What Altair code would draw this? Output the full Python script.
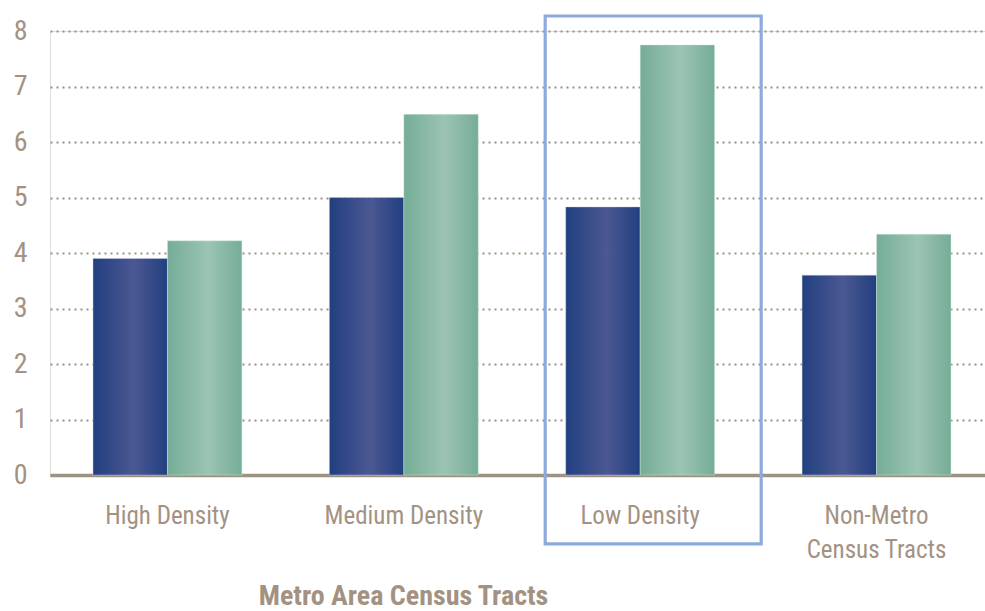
import altair as alt
import pandas as pd

categories = ["High Density", "Medium Density", "Low Density", "Non-Metro Census Tracts"]
series_a = [3.9, 5.0, 4.83, 3.6]
series_b = [4.22, 6.5, 7.75, 4.34]
y_ticks = [0, 1, 2, 3, 4, 5, 6, 7, 8]

rows = []
for c, a, b in zip(categories, series_a, series_b):
    rows.append({"category": c, "series": "A", "value": a})
    rows.append({"category": c, "series": "B", "value": b})
df = pd.DataFrame(rows)

highlight = pd.DataFrame({"category": ["Low Density"], "top": [8.27], "bottom": [-1.24]})

FONT = "Roboto Condensed, DejaVu Sans Condensed, Liberation Sans Narrow, Roboto, sans-serif"
TXT = "#a39282"

blue_grad = alt.Gradient(
    gradient="linear", x1=0, x2=1, y1=0, y2=0,
    stops=[alt.GradientStop(color="#223f80", offset=0),
           alt.GradientStop(color="#4b5892", offset=0.55),
           alt.GradientStop(color="#223f80", offset=1)])
green_grad = alt.Gradient(
    gradient="linear", x1=0, x2=1, y1=0, y2=0,
    stops=[alt.GradientStop(color="#75ad97", offset=0),
           alt.GradientStop(color="#9cc4b3", offset=0.55),
           alt.GradientStop(color="#75ad97", offset=1)])

x_enc = alt.X(
    "category:N",
    sort=categories,
    scale=alt.Scale(domain=categories, range=[0, 944], paddingInner=0.37, paddingOuter=0.182),
    axis=alt.Axis(
        title="Metro Area Census Tracts",
        titleFont=FONT, titleFontSize=28, titleFontWeight="bold", titleColor=TXT,
        titleX=353, titleY=129, titleAlign="center", titleBaseline="alphabetic", titleAnchor="start",
        labelFont=FONT, labelFontSize=25, labelColor=TXT, labelAngle=0,
        labelBaseline="alphabetic", labelPadding=48, labelLineHeight=34,
        labelExpr="datum.label == 'Non-Metro Census Tracts' ? ['Non-Metro', 'Census Tracts'] : datum.label",
        ticks=False, domainColor="#a09282", domainWidth=3.5, grid=False,
    ),
)
y_enc = alt.Y(
    "value:Q",
    scale=alt.Scale(domain=[0, 8], nice=False),
    axis=alt.Axis(
        title=None, values=y_ticks, format="d",
        labelFont=FONT, labelFontSize=28, labelColor=TXT, labelPadding=23,
        ticks=False, domain=False,
        grid=True, gridColor="#9d8f80", gridDash=[2, 4], gridWidth=2,
    ),
)
xoff = alt.XOffset("series:N", scale=alt.Scale(domain=["A", "B"], paddingInner=0, paddingOuter=0))

bars_a = alt.Chart(df).transform_filter(alt.datum.series == "A").mark_bar(
    color=blue_grad, stroke="#c9d3e6", strokeWidth=0.6, strokeOpacity=0.7
).encode(x=x_enc, xOffset=xoff, y=y_enc)

bars_b = alt.Chart(df).transform_filter(alt.datum.series == "B").mark_bar(
    color=green_grad, stroke="#d9ebe3", strokeWidth=0.6, strokeOpacity=0.7
).encode(x=alt.X("category:N", sort=categories), xOffset=xoff, y=alt.Y("value:Q"))

box = alt.Chart(highlight).mark_bar(
    fillOpacity=0, stroke="#8eaadc", strokeWidth=3.2, width=216, xOffset=13
).encode(
    x=alt.X("category:N", sort=categories),
    y=alt.Y("top:Q"),
    y2="bottom:Q",
)

chart = alt.layer(bars_a, bars_b, box).properties(
    width=935, height=444,
    autosize=alt.AutoSizeParams(type="none"),
    padding={"left": 50, "top": 31, "right": 0, "bottom": 136},
).configure_view(stroke=None).configure(background="white")

chart.save("out.html", embed_options={"renderer": "svg", "actions": False})
